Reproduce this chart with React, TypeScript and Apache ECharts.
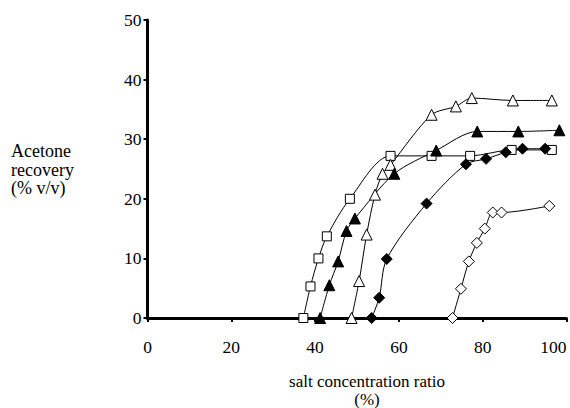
import React, { useEffect, useRef } from "react";
import * as echarts from "echarts";

const openSquareX = [37.2, 38.9, 40.8, 42.8, 48.3, 58.0, 67.8, 77.0, 86.9, 96.5];
const openSquareY = [0, 5.3, 10, 13.7, 20, 27.2, 27.2, 27.2, 28.2, 28.2];

const openTriX = [48.7, 50.5, 52.3, 54.3, 56.1, 58.0, 67.8, 73.6, 77.4, 87.2, 96.5];
const openTriY = [0, 6.2, 14, 20.7, 24.2, 25.7, 34.1, 35.5, 36.9, 36.5, 36.5];

const filledTriX = [41.2, 43.4, 45.5, 47.5, 49.5, 58.9, 68.9, 78.7, 88.5, 98.3];
const filledTriY = [0, 5.5, 9.5, 14.6, 16.7, 24.2, 28.1, 31.3, 31.3, 31.5];

const filledDiaX = [53.5, 55.3, 57.1, 66.6, 76.0, 80.8, 85.5, 89.5, 94.9];
const filledDiaY = [0, 3.4, 9.9, 19.2, 25.8, 26.7, 27.8, 28.4, 28.4];

const openDiaX = [72.8, 74.8, 76.7, 78.6, 80.5, 82.4, 84.5, 95.9];
const openDiaY = [0, 4.9, 9.5, 12.6, 15, 17.7, 17.7, 18.8];

const xTicks = [0, 20, 40, 60, 80, 100];
const yTicks = [0, 10, 20, 30, 40, 50];

const yTitle = ["Acetone", "recovery", "(% v/v)"];
const xTitle = ["salt concentration ratio", "(%)"];

const FONT = "Liberation Serif";

function pairs(xs: number[], ys: number[]) {
  return xs.map((x, i) => [x, ys[i]]);
}

export default function App() {
  const ref = useRef<HTMLDivElement>(null);
  useEffect(() => {
    if (!ref.current) return;
    const chart = echarts.init(ref.current, undefined, { renderer: "svg" });
    const mk = (
      name: string,
      xs: number[],
      ys: number[],
      symbol: string,
      size: number,
      filled: boolean
    ) => ({
      name,
      type: "line",
      data: pairs(xs, ys),
      symbol,
      symbolSize: size,
      showAllSymbol: true,
      smooth: 0.3,
      lineStyle: { color: "#000", width: 1 },
      itemStyle: {
        color: filled ? "#000" : "#fff",
        borderColor: "#000",
        borderWidth: 1,
      },
      z: 3,
    });
    chart.setOption({
      animation: false,
      backgroundColor: "#fff",
      textStyle: { fontFamily: FONT },
      grid: { left: 147.5, right: 3.5, top: 20, bottom: 90, containLabel: false },
      xAxis: {
        type: "value",
        min: 0,
        max: 100,
        interval: 20,
        splitLine: { show: false },
        axisLine: { show: true, onZero: false, lineStyle: { color: "#000", width: 3 } },
        axisTick: { show: true, length: 4, lineStyle: { color: "#000", width: 2 } },
        axisLabel: {
          color: "#000",
          fontFamily: FONT,
          fontSize: 17.5,
          margin: 20,
          alignMaxLabel: "right",
          formatter: (v: number) => (xTicks.includes(v) ? String(v) : ""),
        },
      },
      yAxis: {
        type: "value",
        min: 0,
        max: 50,
        interval: 10,
        splitLine: { show: false },
        axisLine: { show: true, onZero: false, lineStyle: { color: "#000", width: 3 } },
        axisTick: { show: true, length: 4, lineStyle: { color: "#000", width: 2 } },
        axisLabel: {
          color: "#000",
          fontFamily: FONT,
          fontSize: 17.5,
          margin: 6,
          formatter: (v: number) => (yTicks.includes(v) ? String(v) : ""),
        },
      },
      graphic: [
        ...yTitle.map((t, i) => ({
          type: "text",
          x: 11,
          y: 151 + i * 18.5,
          style: {
            text: t,
            fill: "#000",
            fontFamily: FONT,
            fontSize: 18,
            textVerticalAlign: "middle",
          },
        })),
        ...xTitle.map((t, i) => ({
          type: "text",
          x: 367,
          y: 381 + i * 18,
          style: {
            text: t,
            fill: "#000",
            fontFamily: FONT,
            fontSize: 17,
            textAlign: "center",
            textVerticalAlign: "middle",
          },
        })),
      ],
      series: [
        mk("openSquare", openSquareX, openSquareY, "rect", 9, false),
        mk("openTriangle", openTriX, openTriY, "triangle", 11, false),
        mk("filledTriangle", filledTriX, filledTriY, "triangle", 11, true),
        mk("filledDiamond", filledDiaX, filledDiaY, "diamond", 11, true),
        mk("openDiamond", openDiaX, openDiaY, "diamond", 11, false),
      ],
    });
    return () => chart.dispose();
  }, []);
  return (
    <div
      ref={ref}
      style={{ position: "fixed", left: 0, top: 0, width: 570, height: 408 }}
    />
  );
}
